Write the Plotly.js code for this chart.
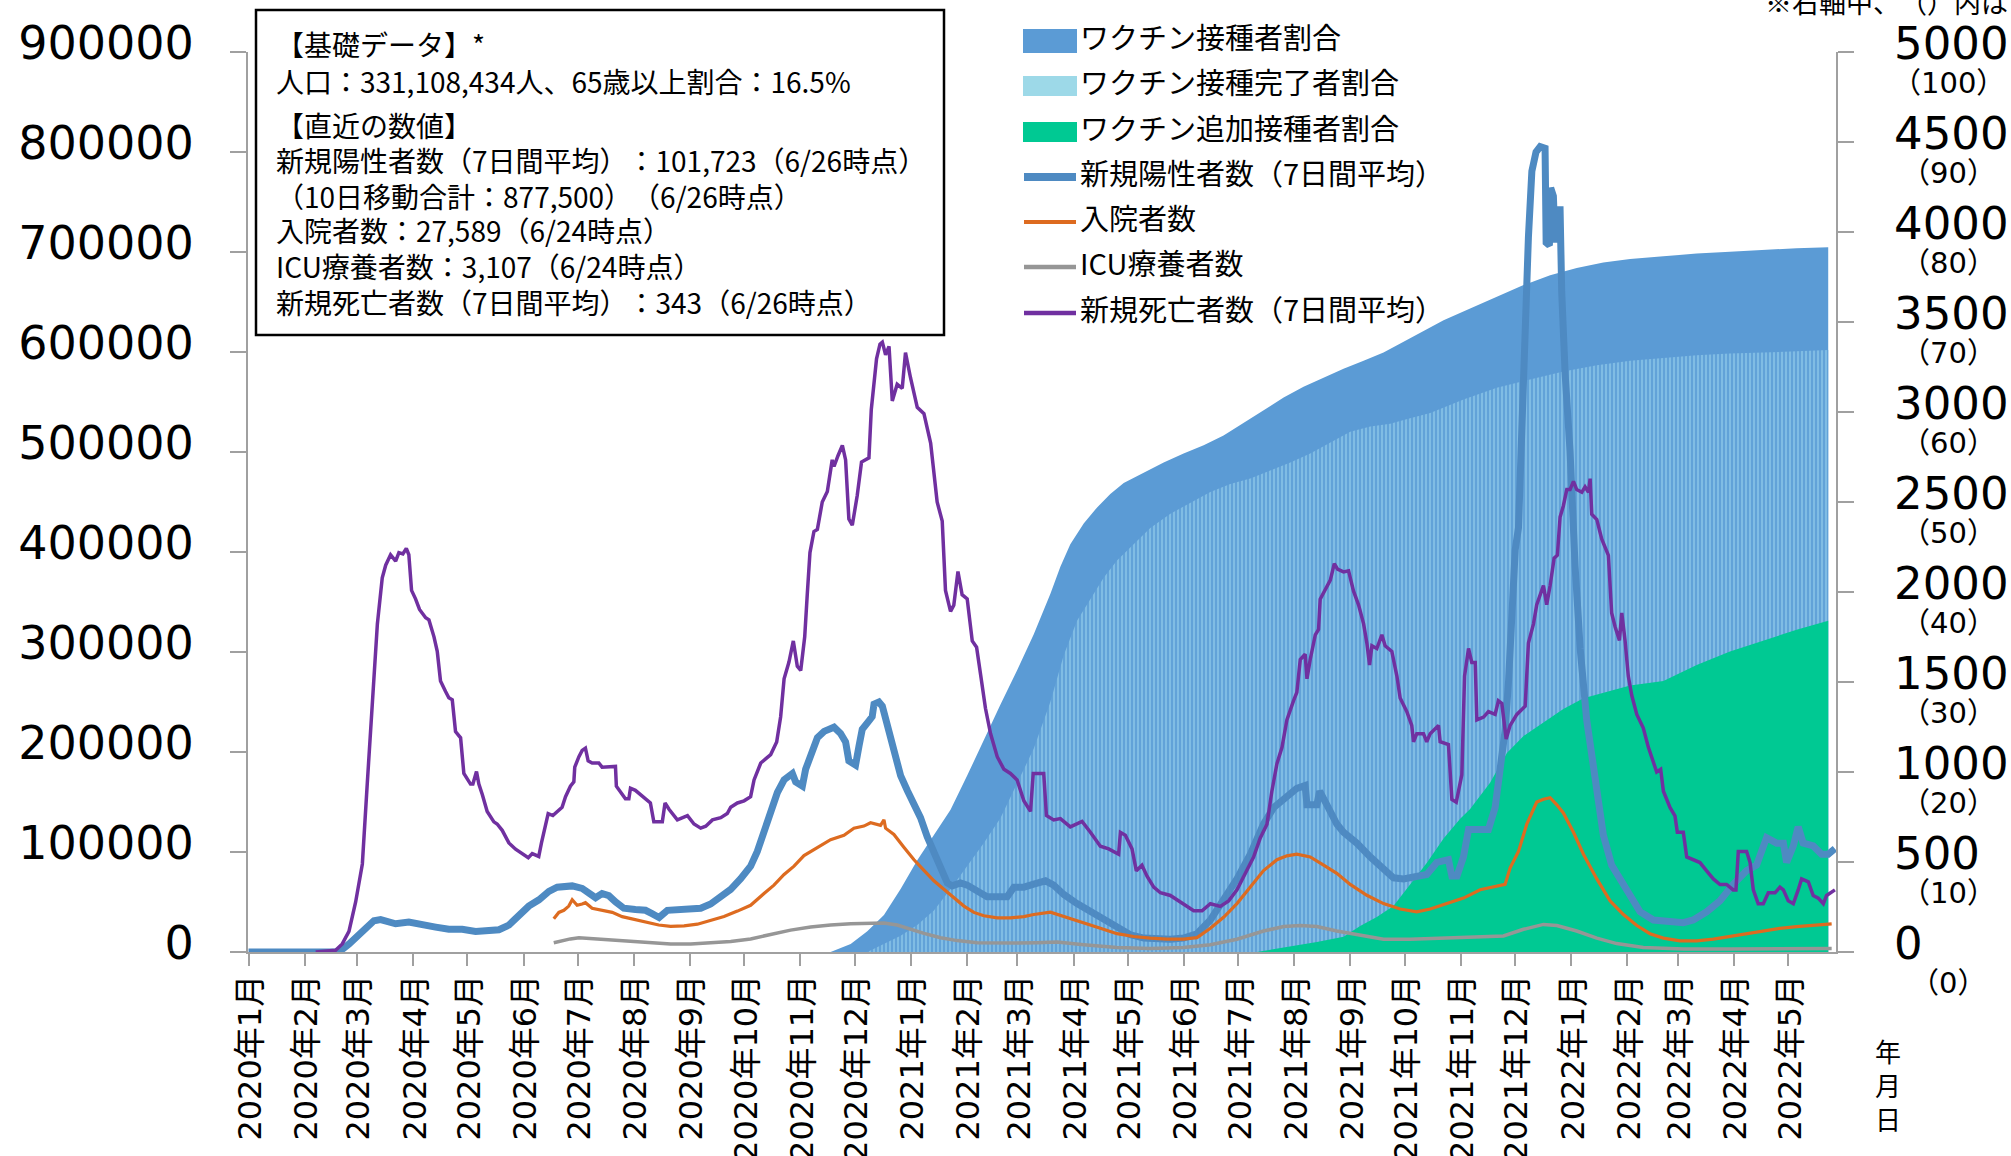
<!DOCTYPE html>
<html><head><meta charset="utf-8">
<script src="https://cdn.plot.ly/plotly-3.0.1.min.js"></script>
<style>html,body{margin:0;padding:0;background:#fff;} #chart{width:2011px;height:1156px;} *, svg text, svg tspan { text-spacing-trim: space-all; }</style>
</head><body><div id="chart"></div>
<script>
// ---- data (x = days since 2020-01-01) ----
const monthTicks = ['2020-01-01','2020-02-01','2020-03-01','2020-04-01','2020-05-01','2020-06-01','2020-07-01','2020-08-01','2020-09-01','2020-10-01','2020-11-01','2020-12-01',
 '2021-01-01','2021-02-01','2021-03-01','2021-04-01','2021-05-01','2021-06-01','2021-07-01','2021-08-01','2021-09-01','2021-10-01','2021-11-01','2021-12-01',
 '2022-01-01','2022-02-01','2022-03-01','2022-04-01','2022-05-01'];
const monthLabels = ['2020年1月','2020年2月','2020年3月','2020年4月','2020年5月','2020年6月','2020年7月','2020年8月','2020年9月','2020年10月','2020年11月','2020年12月',
 '2021年1月','2021年2月','2021年3月','2021年4月','2021年5月','2021年6月','2021年7月','2021年8月','2021年9月','2021年10月','2021年11月','2021年12月',
 '2022年1月','2022年2月','2022年3月','2022年4月','2022年5月'];
const leftTickVals = [0,100000,200000,300000,400000,500000,600000,700000,800000,900000];
const leftTickText = ['0','100000','200000','300000','400000','500000','600000','700000','800000','900000'];
const rightTickVals = [0,500,1000,1500,2000,2500,3000,3500,4000,4500,5000];
const rightTickText = ['0','500','1000','1500','2000','2500','3000','3500','4000','4500','5000'];
const rightPctText = ['（0）','（10）','（20）','（30）','（40）','（50）','（60）','（70）','（80）','（90）','（100）'];

const seriesNames = ['ワクチン接種者割合','ワクチン接種完了者割合','ワクチン追加接種者割合','新規陽性者数（7日間平均）','入院者数','ICU療養者数','新規死亡者数（7日間平均）'];

const infoLines = ['【基礎データ】*','人口：331,108,434人、65歳以上割合：16.5%','【直近の数値】','新規陽性者数（7日間平均）：101,723（6/26時点）',
 '（10日移動合計：877,500）（6/26時点）','入院者数：27,589（6/24時点）','ICU療養者数：3,107（6/24時点）','新規死亡者数（7日間平均）：343（6/26時点）'];

const caseDays = [0,50,55.5,61,65.6,69.3,73,77.6,81.3,88.6,96,103.4,110.7,118.1,125.5,132.8,138.4,143.9,149.4,154.9,160.5,166,170.6,178.9,184.4,188.1,191.8,195.4,199.1,202.8,207.4,213.8,219.4,223,226.9,231.5,240.7,249.9,255.4,260.9,266.5,272,277.5,281.2,284.9,288.6,292.3,296,300.6,302.4,306.1,307.9,310.7,314.4,318.1,323.6,327.2,330,331.8,335.5,337.4,339.2,342.9,344.7,345.7,348.4,350.3,353,356.7,360.4,364.1,367.8,371.4,375.1,378.8,382.5,386.2,388.9,393.5,397.2,402.7,408.2,413.8,419.3,423,428.5,434,440.5,445,450.6,457.9,465.3,472.7,480,487.4,494.8,502.1,509.5,516.8,524.2,531.6,538.9,546.3,553.7,561,566.6,572.1,579.4,584,585,590.5,592,596,601.5,605.2,612.6,620,627.3,632.8,638.4,645.7,651.2,656.8,663.2,665.1,667.9,671.5,674.3,680.7,685.3,689,691.8,694.5,696.4,698.8,700.1,701.9,703.7,705.6,707.4,709.3,711.6,713.9,716.6,717.2,719,719.7,721.2,722.1,723.1,724.9,725.8,727.7,730.4,733.2,736,739.6,742.4,745.2,748.8,753.4,759,763.6,769.1,776.5,785.7,793,798.5,805.9,813.3,820.6,828,833.5,839,844.6,848.3,850.1,853.8,856.5,859.3,864.8,869.4,873.1,876.8];
const caseVals = [0,0,8000,16400,24900,31200,32400,29900,28200,29900,28200,24900,22700,22700,20600,21900,22300,26900,35400,45900,52200,60600,64800,66100,63600,58500,54300,58500,56400,50100,43800,42500,41700,38300,34500,41700,42500,43800,48000,54300,62700,73300,85900,100600,121700,140600,159500,172200,178500,170100,165900,182700,197400,214300,220600,224800,218500,210100,191100,186900,205800,222700,231100,235300,247900,250000,245800,226900,201600,176400,161600,149000,134300,115400,100600,83800,69100,66100,69100,66900,60600,55200,55200,55200,64800,64800,67800,71200,66900,57500,48400,40200,32000,23700,17200,13900,12800,12800,13900,18300,32000,51200,73100,97800,128000,144400,152700,163600,166400,147200,147200,160900,147200,128000,119700,108800,95100,84100,74200,73100,75900,77500,89600,92300,75900,75900,95100,122500,122500,122500,144400,182800,221200,270600,358400,402200,424200,522900,632600,714900,780700,799900,805400,803700,709400,706600,764200,756000,709400,742300,742300,660000,577800,500800,385800,303500,232200,193800,166400,117000,86900,70400,53900,40200,32000,30300,29300,32000,40200,51200,67600,81400,86900,114300,108800,108800,89600,106000,125200,108800,106000,97800,97800,103300];

const hospDays = [168.7,171.5,174.3,177,178.9,181.6,184.4,186.2,189.9,195.4,201,206.5,213.8,221.2,226.7,233.3,240.7,248.1,255.4,262.8,270.2,277.5,284.9,290.4,296,301.5,307,314.4,321.7,329.1,334.6,340.1,343.8,349.3,351.2,352.1,356.7,362.2,367.8,373.3,378.8,384.3,389.8,395.4,400.9,406.4,413.8,421.1,428.5,434,443.2,452.4,461.6,470.8,480,489.2,498.4,507.6,516.8,524.2,531.6,538.9,546.3,553.7,561,568.4,573.9,579.4,586.8,594.2,601.5,608.9,618.1,627.3,636.5,645.7,653.1,662.3,671.5,680.7,694.5,697.3,701.9,706.5,712,715.7,719.4,723.1,726.7,732.3,737.8,745.2,752.5,759.9,767.3,774.6,782,791.2,800.4,809.6,818.8,828,837.2,846.4,855.6,864.8,875];
const hospVals = [33300,39600,41700,45900,52200,46700,48000,49300,43800,41700,39600,35400,32500,29100,27000,25700,26100,27800,31200,35400,40900,46700,58500,66900,77500,85900,96400,104800,112400,116600,123800,125900,129200,126700,132200,123800,117500,104800,92200,81700,71200,62700,54300,45900,39600,36200,34100,34100,35400,37500,39800,34700,29300,23700,18300,15500,13900,12800,12800,14400,23700,34700,48400,64900,81400,92300,96200,97800,95100,86900,78700,67600,56700,48400,43000,40200,43000,48400,53900,62200,67600,84100,100600,128000,149900,152700,154300,147200,139000,119700,97800,73100,51200,37500,26500,18300,13900,11200,11200,12800,15500,18300,21000,23700,25400,26500,28100];

const icuDays = [168.7,173.3,177.9,182.6,189.9,199.1,208.3,217.5,226.7,233.3,244.4,255.4,266.5,277.5,288.6,299.6,310.7,321.7,332.8,343.8,351.2,358.5,365.9,373.3,382.5,391.7,402.7,413.8,424.8,435.9,446.9,461.6,480,498.4,516.8,531.6,546.3,561,572.1,581.3,590.5,601.5,612.6,627.3,642,656.8,671.5,693.6,704.7,715.7,723.1,734.1,745.2,756.2,770.9,793,818.8,846.4,875];
const icuVals = [9300,11400,13100,14300,13500,12200,11000,9700,8900,8000,8000,8900,10600,13100,17300,21900,24900,27000,28200,29100,29100,27000,22700,18600,14300,11400,9300,8900,8900,9300,10000,7300,4600,3500,4600,7300,12800,21000,25400,26500,25400,21000,17200,12800,12800,13800,14400,16100,22700,27600,26500,21000,13900,8400,4600,2900,2900,2900,3500];

const deathDays = [37.1,48.1,51.8,55.5,59.2,62.9,65.6,68.4,71.2,73.9,75.8,78.5,81.3,83.1,85.3,87.2,88.6,90.1,92.3,94.5,97.9,99.7,102.5,104.3,106.1,108.9,110.7,112.6,114.4,117.2,119,122.7,124,126,127.3,129.2,131.9,135.6,137.4,140.2,143.9,147.6,151.2,154.6,156.8,160.4,161.9,164.1,165.6,168.2,170.6,173.3,175.2,177.9,179.8,180.3,182.6,184.4,186.2,187.7,189.9,193.6,195.4,199.1,202.8,203.3,205.6,208.3,210.2,211.1,213.8,216.6,219.4,222.1,224,228.7,230.2,232.4,237,242.6,246.2,249.9,252.7,256.4,261,264.6,266.5,270.2,273.9,277.5,279.4,283.1,285.8,288.6,291.9,294.1,296,298.7,301.1,303.3,305.2,307.4,308.8,310.3,312.5,314.4,317.1,319.9,322.6,323.6,325.8,328.2,330,331.8,333.7,336.4,338.8,342.9,344.2,345.7,347.1,349,350.3,352.1,354,355.8,358.5,361.3,363.1,365.9,367.8,369.6,373.3,377,380.6,383.4,385.2,388,389.8,392.1,394.4,397.2,400,402.4,404.6,407.3,410.1,413.8,417.5,421.1,424.8,428.5,432.2,433.7,439.5,441,445,448.7,454.2,460.7,465.3,470.8,475.4,480.9,481.9,484.6,488.3,490.7,493.8,496.6,500.3,504,509.5,514.1,518.7,522.4,527,531.6,537.1,541.7,546.3,550.9,555.5,559.2,562.9,565.6,568.4,571.2,573.9,577.6,579.4,581.3,584,585,586.8,589.6,591.4,592.3,596,597.9,600.1,601.9,605.2,608,610.7,613.5,616.3,618.1,619.6,620.9,623.6,626.4,628.2,631.9,634.7,636.5,640.2,642.9,643.9,645.7,649.4,651.2,653.1,657.7,658.6,663.2,665.1,667.5,670.6,672.1,674.3,676.1,678,678.9,682.6,685.3,689,690.8,692.7,695.1,697.3,701,705.6,707.4,710.2,712,715.7,717.5,719.4,721.6,723.4,724.9,726.7,728.6,730.4,732.3,734.1,736.9,738.7,740.6,741.5,742.4,745.2,747.9,751.6,753.4,755.3,757.7,759,760.8,762.6,764.5,767.3,770.9,773.7,776.5,778.3,780.5,782,785.7,788.4,789.7,793,794.9,798.5,802.2,805.9,809.6,813.3,816.9,820.6,822.1,823.4,828,829.9,831.7,834.4,837.2,840,843.7,846.4,848.3,851,853.8,856.5,858.4,862.1,864.8,867.6,870.4,872.2,876.8];
const deathVals = [0,10,45,115,278,489,933,1401,1822,2079,2149,2207,2172,2219,2212,2242,2207,2009,1962,1903,1857,1845,1751,1670,1506,1447,1412,1401,1225,1190,992,933,933,1003,933,875,781,723,711,676,606,571,547,524,547,531,606,699,769,758,781,804,863,921,945,1027,1085,1120,1132,1062,1050,1050,1027,1027,1031,921,886,851,851,910,898,875,851,828,723,723,828,793,734,758,711,688,699,734,746,769,804,828,840,863,956,1050,1073,1097,1167,1307,1518,1611,1728,1588,1564,1751,1985,2219,2336,2348,2500,2558,2734,2698,2757,2815,2734,2406,2371,2535,2722,2745,3014,3154,3295,3377,3388,3318,3365,3061,3154,3131,3330,3189,3096,3026,2991,2827,2500,2394,2009,1892,1927,2114,1985,1962,1728,1693,1541,1354,1214,1085,1015,992,956,840,781,992,992,758,734,741,695,726,665,588,573,543,665,649,573,451,482,421,360,329,314,284,253,229,229,268,253,284,345,436,527,634,710,893,1046,1137,1289,1396,1442,1625,1655,1518,1625,1762,1792,1960,2036,2066,2158,2127,2112,2118,2006,1929,1823,1716,1594,1701,1686,1762,1701,1670,1533,1411,1335,1259,1168,1213,1213,1168,1213,1259,1168,1152,847,832,985,1533,1686,1609,1609,1289,1305,1335,1320,1396,1381,1183,1259,1320,1366,1716,1823,1929,2036,1929,2036,2188,2204,2417,2478,2569,2569,2615,2569,2554,2584,2554,2630,2432,2402,2295,2204,1884,1807,1731,1884,1731,1533,1426,1320,1244,1137,1046,1000,1015,893,802,756,665,665,528,512,497,451,406,375,375,345,345,558,558,497,345,268,268,329,329,360,345,284,268,345,406,390,314,299,268,314,345];

const vacc1Days = [321.7,332.8,342,351.2,360.4,369.6,378.8,388,397.2,406.4,415.6,424.8,434,443.2,448.7,454.2,461.6,469,476.3,483.7,494.8,505.8,516.8,527.9,538.9,550,561,572.1,583.1,594.2,605.2,616.3,627.3,638.4,649.4,660.5,675.2,689.9,704.7,719.4,734.1,748.8,763.6,782,800.4,818.8,837.2,855.6,873.1];
const vacc1Pct = [0,0.9,2.3,4.1,7,10.2,13,15.8,19.6,23.6,27.5,31.3,35.3,39.8,42.8,45.3,47.6,49.4,50.9,52.1,53.3,54.4,55.4,56.3,57.4,58.8,60.2,61.6,62.8,63.8,64.8,65.7,66.6,67.8,69,70.2,71.5,72.8,74.1,75.2,76,76.6,77,77.3,77.6,77.8,78,78.2,78.3];

const vacc2Days = [342,351.2,360.4,369.6,378.8,388,397.2,406.4,415.6,424.8,434,443.2,450.6,457.9,465.3,472.7,480,489.2,498.4,509.5,520.5,531.6,542.6,553.7,564.7,575.8,586.8,597.9,608.9,620,631,642,653.1,671.5,689.9,708.3,726.7,745.2,763.6,782,800.4,818.8,837.2,873.1];
const vacc2Pct = [0,0.9,1.8,3,4.6,7,9.5,12.1,14.9,18.7,22.6,27.8,33,36.8,39.2,41.6,43.5,45.3,47.1,48.7,49.9,51.1,52,52.6,53.5,54.4,55.4,56.6,57.8,58.4,58.7,59.3,59.9,61.4,62.7,63.6,64.5,65.2,65.7,66,66.3,66.5,66.6,66.9];

const vacc3Days = [557.3,572.1,590.5,605.2,614.4,623.6,632.8,642,651.2,660.5,669.7,675.2,686.2,695.5,704.7,715.7,726.7,737.8,748.8,763.6,782,800.4,818.8,837.2,855.6,873.1];
const vacc3Pct = [0,0.5,1.1,1.7,2.9,3.9,5.1,7.5,9.9,12.6,14.8,15.9,18.8,22.1,24,25.5,27,28.2,28.8,29.6,30.1,31.9,33.4,34.6,35.8,36.8];

// ---- helpers ----
const W = 2011, H = 1156, PL = 248, PR = 1836, PT = 52, PB = 952;
const base = Date.UTC(2020, 0, 1);
function toDate(d) { return new Date(base + Math.round(d * 86400000)).toISOString().replace('T', ' ').slice(0, 19); }
const px = x => (x - PL) / (PR - PL);
const py = y => (PB - y) / (PB - PT);

const C = { v1: '#5B9BD5', v2: '#9DD9E8', v3: '#00C993', cases: '#4E8AC2', hosp: '#DD6B20', icu: '#969696', death: '#7030A0' };
const CJK = 'Noto Sans CJK JP';
const NUM = 'DejaVu Sans, Noto Sans CJK JP';

const traces = [
  { x: vacc1Days.map(toDate), y: vacc1Pct, name: seriesNames[0], type: 'scatter', mode: 'lines', line: { width: 0, color: C.v1 }, fill: 'tozeroy', fillcolor: C.v1, xaxis: 'x', yaxis: 'y', hoverinfo: 'skip' },
  { x: vacc2Days.map(toDate), y: vacc2Pct, name: seriesNames[1], type: 'scatter', mode: 'lines', line: { width: 0, color: '#66A7DB' }, fill: 'tozeroy', fillcolor: '#66A7DB',
    fillpattern: { shape: '|', bgcolor: '#62A2D8', fgcolor: '#8DC8EA', size: 4, solidity: 0.35 }, xaxis: 'x', yaxis: 'y', hoverinfo: 'skip' },
  { x: vacc3Days.map(toDate), y: vacc3Pct, name: seriesNames[2], type: 'scatter', mode: 'lines', line: { width: 0, color: C.v3 }, fill: 'tozeroy', fillcolor: C.v3, xaxis: 'x', yaxis: 'y', hoverinfo: 'skip' },
  { x: caseDays.map(toDate), y: caseVals, name: seriesNames[3], type: 'scatter', mode: 'lines', line: { width: 7, color: C.cases }, xaxis: 'x', yaxis: 'y2' },
  { x: hospDays.map(toDate), y: hospVals, name: seriesNames[4], type: 'scatter', mode: 'lines', line: { width: 3.2, color: C.hosp }, xaxis: 'x', yaxis: 'y2' },
  { x: icuDays.map(toDate), y: icuVals, name: seriesNames[5], type: 'scatter', mode: 'lines', line: { width: 3.5, color: C.icu }, xaxis: 'x', yaxis: 'y2' },
  { x: deathDays.map(toDate), y: deathVals, name: seriesNames[6], type: 'scatter', mode: 'lines', line: { width: 3.5, color: C.death }, xaxis: 'x', yaxis: 'y3' }
];

const shapes = [];
const annotations = [];

// info box
shapes.push({ type: 'rect', xref: 'paper', yref: 'paper', x0: px(256), x1: px(944), y0: py(10), y1: py(335), line: { color: '#000', width: 2.5 }, fillcolor: '#fff', layer: 'above' });
const infoY = [44, 81, 125, 160, 196, 230, 266, 302];
infoLines.forEach((t, i) => annotations.push({ xref: 'paper', yref: 'paper', x: px(274), y: py(infoY[i]), xanchor: 'left', yanchor: 'middle', text: t, showarrow: false, font: { family: CJK, size: 28, color: '#000' } }));

// legend (manual)
const legSymY = [41, 86, 132, 177, 222, 267, 313];
const legKind = ['rect', 'rect', 'rect', 'line', 'line', 'line', 'line'];
const legColor = [C.v1, C.v2, C.v3, C.cases, C.hosp, C.icu, C.death];
const legWidth = [0, 0, 0, 8, 4, 4.5, 4.5];
const legRectH = [24, 20, 20];
seriesNames.forEach((n, i) => {
  if (legKind[i] === 'rect') {
    shapes.push({ type: 'rect', xref: 'paper', yref: 'paper', x0: px(1023), x1: px(1077), y0: py(legSymY[i] - legRectH[i] / 2), y1: py(legSymY[i] + legRectH[i] / 2), line: { width: 0 }, fillcolor: legColor[i], layer: 'above' });
  } else {
    shapes.push({ type: 'line', xref: 'paper', yref: 'paper', x0: px(1024), x1: px(1076), y0: py(legSymY[i]), y1: py(legSymY[i]), line: { color: legColor[i], width: legWidth[i] }, layer: 'above' });
  }
  annotations.push({ xref: 'paper', yref: 'paper', x: px(1078), y: py(legSymY[i] - 5), xanchor: 'left', yanchor: 'middle', text: n, showarrow: false, font: { family: CJK, size: 29, color: '#000' } });
});

// right-axis percent labels
rightTickVals.forEach((v, i) => annotations.push({ xref: 'paper', yref: 'y3', x: px(1948), y: v, yshift: -31, xanchor: 'center', yanchor: 'middle', text: rightPctText[i], showarrow: false, font: { family: NUM, size: 29, color: '#000' } }));

// notes
annotations.push({ xref: 'paper', yref: 'paper', x: px(1763), y: py(1), xanchor: 'left', yanchor: 'middle', text: '※右軸中、（）内はワクチン接種率（%）', showarrow: false, font: { family: CJK, size: 27, color: '#000' } });
annotations.push({ xref: 'paper', yref: 'paper', x: px(1888), y: py(1084), xanchor: 'center', yanchor: 'middle', text: '年<br>月<br>日', showarrow: false, font: { family: CJK, size: 26, color: '#000' } });

const axisGray = '#A0A0A0';
const layout = {
  width: W, height: H,
  margin: { l: PL, r: W - PR, t: PT, b: H - PB, pad: 0 },
  paper_bgcolor: '#fff', plot_bgcolor: '#fff', showlegend: false,
  font: { family: CJK, color: '#000' },
  xaxis: { type: 'date', range: [toDate(-0.3), toDate(877.4)], tickvals: monthTicks, ticktext: monthLabels, tickangle: -90,
    ticks: 'outside', ticklen: 12, tickwidth: 2, tickcolor: axisGray, showline: true, linecolor: axisGray, linewidth: 2,
    showgrid: false, zeroline: false, tickfont: { family: NUM, size: 32, color: '#000' }, ticklabelstandoff: -4, ticklabelshift: 2, anchor: 'y', automargin: false },
  yaxis: { range: [0, 100], visible: false, showgrid: false, zeroline: false },
  yaxis2: { overlaying: 'y', side: 'left', anchor: 'x', range: [0, 900000], tickvals: leftTickVals, ticktext: leftTickText,
    ticks: 'outside', ticklen: 16, tickwidth: 2, tickcolor: axisGray, showline: true, linecolor: axisGray, linewidth: 2,
    showgrid: false, zeroline: false, tickfont: { family: 'DejaVu Sans', size: 46, color: '#000' }, ticklabelstandoff: 27, ticklabelshift: -9, automargin: false },
  yaxis3: { overlaying: 'y', side: 'right', anchor: 'x', range: [0, 5000], tickvals: rightTickVals, ticktext: rightTickText,
    ticks: 'outside', ticklen: 16, tickwidth: 2, tickcolor: axisGray, showline: true, linecolor: axisGray, linewidth: 2,
    showgrid: false, zeroline: false, tickfont: { family: 'DejaVu Sans', size: 45, color: '#000' }, ticklabelstandoff: 31, ticklabelshift: -9, automargin: false },
  shapes: shapes,
  annotations: annotations
};

Plotly.newPlot('chart', traces, layout, { staticPlot: true, displayModeBar: false });
</script></body></html>
